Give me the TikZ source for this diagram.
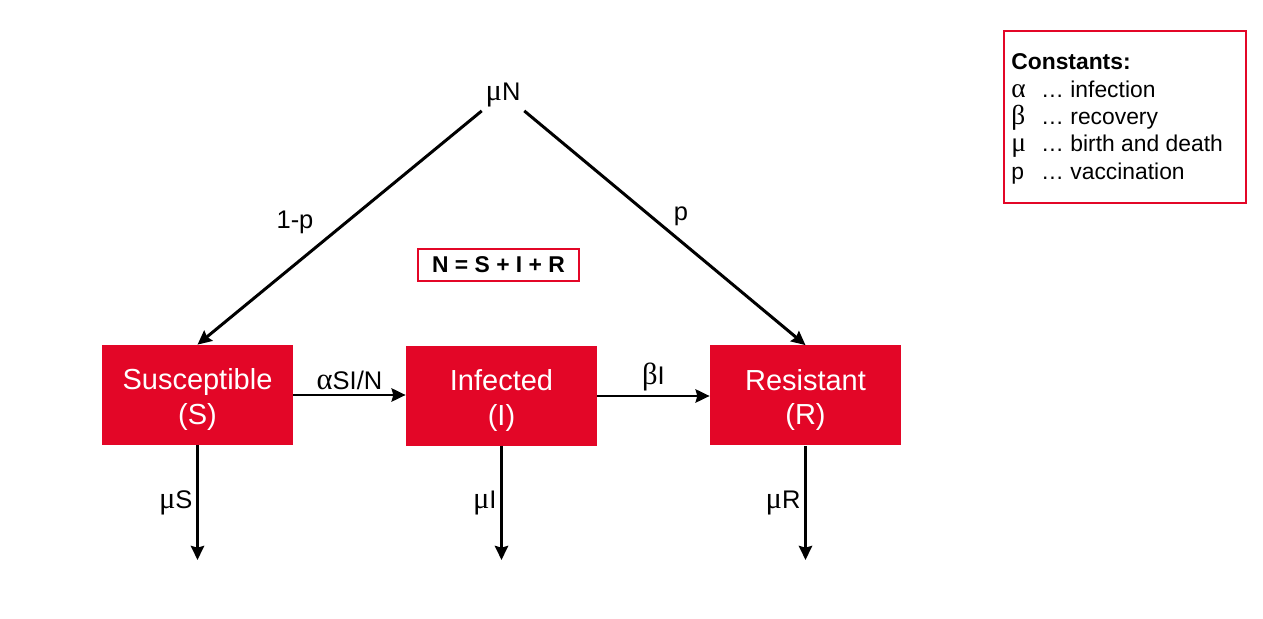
\documentclass[tikz,border=0pt]{standalone}
\usepackage{fontspec}
\setmainfont{Liberation Sans}
\newfontfamily\grk{Liberation Serif}[Scale=1.2]
\usetikzlibrary{arrows.meta}
\definecolor{sirred}{RGB}{227,6,39}
\newcommand\cmpt[2]{\rule{0pt}{17pt}#1\\(#2)}
\tikzset{
  compartment/.style={fill=sirred,text=white,minimum width=38.2mm,minimum height=20mm,
    align=center,font=\fontsize{16.5}{19.5}\selectfont},
  flow/.style={line width=1.7pt,-{Stealth[length=8pt,width=7.5pt,inset=1pt]}},
  lbl/.style={font=\fontsize{14.5}{17}\selectfont,inner sep=2pt},
  redframe/.style={draw=sirred,line width=1.6pt}
}
\begin{document}
\begin{tikzpicture}[x=0.2mm,y=-0.2mm]
  \useasboundingbox (0,0) rectangle (1263,619);
  \node[compartment] (S) at (197.5,395) {\cmpt{Susceptible}{S}};
  \node[compartment] (I) at (501.5,396) {\cmpt{Infected}{I}};
  \node[compartment] (R) at (805.5,395.5) {\cmpt{Resistant}{R}};
  \node[lbl] (muN) at (503,95) {{\grk μ}N};
  \draw[flow] (muN.south west) -- (S.north) ;
  \draw[flow] (muN.south east) -- (R.north);
  \node[lbl] (lp) at (295,222) {1-p};
  \node[lbl] (p) at (681,216) {p};
  \draw[flow] (S.east) -- node[lbl,above] (si) {{\grk α}SI/N} (S.east -| I.west);
  \draw[flow] (I.east) -- node[lbl,above] (bi) {{\grk β}I} (I.east -| R.west);
  \coordinate (dS) at (197.5,560);
  \coordinate (dI) at (501.5,560);
  \coordinate (dR) at (805.5,560);
  \draw[flow] (S.south) -- node[lbl,left] (ms) {{\grk μ}S} (dS);
  \draw[flow] (I.south) -- node[lbl,left] (mi) {{\grk μ}I} (dI);
  \draw[flow] (R.south) -- node[lbl,left] (mr) {{\grk μ}R} (dR);
  \node[redframe,minimum width=32.2mm,minimum height=6.4mm,font=\fontsize{13}{15}\selectfont\bfseries]
    (sum) at (498.5,265) {N = S + I + R};
  % legend
  \node[redframe,minimum width=48.4mm,minimum height=34.4mm] (consts) at (1125,117) {};
  \node[anchor=west,inner sep=0pt,font=\fontsize{13}{15.5}\selectfont] (constxt) at (1011,119) {%
    \begin{tabular}{@{}p{17pt}@{}l@{}}
      \multicolumn{2}{@{}l@{}}{\bfseries Constants:}\\
      {\grk α} & … infection\\
      {\grk β} & … recovery\\
      {\grk μ} & … birth and death\\
      p & … vaccination
    \end{tabular}};
\end{tikzpicture}
\end{document}
